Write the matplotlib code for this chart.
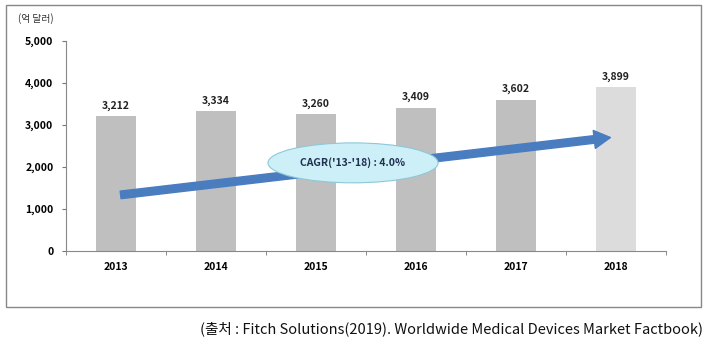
import matplotlib.pyplot as plt
from matplotlib.patches import Ellipse, Rectangle, FancyArrowPatch

plt.rcParams['font.family'] = ['Noto Sans CJK KR', 'DejaVu Sans']

years = ['2013', '2014', '2015', '2016', '2017', '2018']
values = [3212, 3334, 3260, 3409, 3602, 3899]
bar_colors = ['#BFBFBF'] * 5 + ['#DCDCDC']
yticks = [0, 1000, 2000, 3000, 4000, 5000]

fig = plt.figure(figsize=(7.08, 3.44), dpi=100)
ax = fig.add_axes([0.093, 0.270, 0.848, 0.611])

x = range(len(years))
ax.bar(x, values, width=0.4, color=bar_colors, zorder=2)
for i, v in zip(x, values):
    ax.text(i, v + 130, f'{v:,}', ha='center', va='bottom', fontsize=7.5,
            fontweight='bold', color='#222222')

ax.set_xlim(-0.5, 5.5)
ax.set_ylim(0, 5000)
ax.set_yticks(yticks)
ax.set_yticklabels([f'{t:,}' for t in yticks], fontsize=7.5, fontweight='bold')
ax.set_xticks(x)
ax.set_xticklabels(years, fontsize=7.5, fontweight='bold')
ax.tick_params(axis='x', length=0, pad=8)
ax.tick_params(axis='y', length=3, color='#777777', pad=6)
# small ticks between categories
ax.set_xticks([i + 0.5 for i in range(-1, 6)], minor=True)
ax.tick_params(axis='x', which='minor', length=3, color='#777777')
for s in ['top', 'right']:
    ax.spines[s].set_visible(False)
for s in ['left', 'bottom']:
    ax.spines[s].set_color('#888888')
    ax.spines[s].set_linewidth(0.8)

# CAGR trend arrow
arrow = FancyArrowPatch((0.02, 1330), (4.97, 2710),
                        arrowstyle='simple,head_width=1.0,head_length=0.9,tail_width=0.42',
                        mutation_scale=13, color='#4A7CC0', zorder=3)
ax.add_patch(arrow)

ell = Ellipse((2.37, 2100), 1.7, 950, facecolor='#CDEFF8', edgecolor='#8CC8D8',
              linewidth=0.8, zorder=4)
ax.add_patch(ell)
ax.text(2.37, 2100, "CAGR('13-'18) : 4.0%", ha='center', va='center', fontsize=7.5,
        fontweight='bold', color='#1F3050', zorder=5)

fig.text(0.026, 0.947, '(억 달러)', fontsize=7, color='#333333', va='center')

fig.patches.append(Rectangle((0.008, 0.108), 0.982, 0.877, transform=fig.transFigure,
                             fill=False, edgecolor='#888888', linewidth=1.0))

fig.text(0.993, 0.045, '(출처 : Fitch Solutions(2019). Worldwide Medical Devices Market Factbook)',
         ha='right', va='center', fontsize=10.5, color='#111111')

fig.savefig('out.png', dpi=100)
